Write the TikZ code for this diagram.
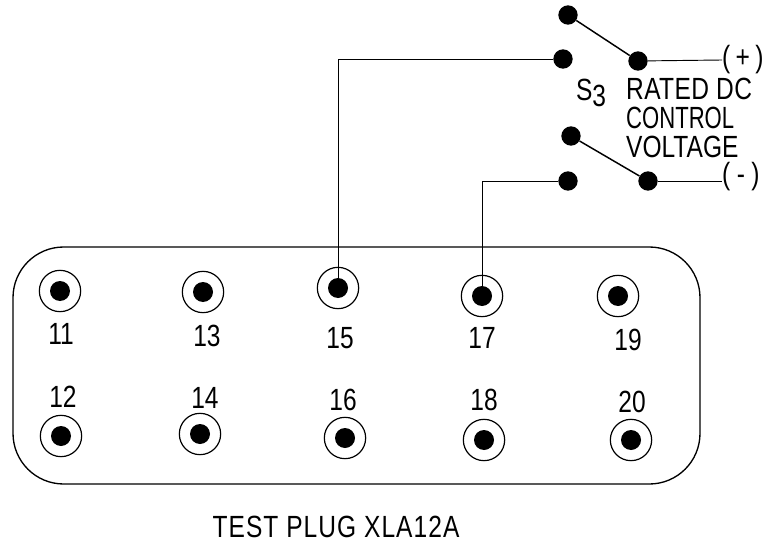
\documentclass[tikz,border=0pt]{standalone}
\usepackage{fontspec}
\setmainfont{Liberation Sans}
\usetikzlibrary{calc, positioning}
\tikzset{
  wire/.style={line width=0.7pt},
  arm/.style={line width=1.1pt},
  contact/.style={circle, fill=black, inner sep=0pt, minimum size=14.5pt},
  jack/.style={circle, draw, line width=0.9pt, inner sep=0pt, minimum size=31pt},
  pin/.style={circle, fill=black, inner sep=0pt, minimum size=15pt},
  lbl/.style={font=\fontsize{23}{23}\selectfont, inner sep=0pt, xscale=.8, transform shape},
}

\begin{document}
\begin{tikzpicture}[x=0.75pt, y=-0.75pt]
\useasboundingbox (0,0) rectangle (777,552);

\draw[line width=1pt, rounded corners=38pt] (13,247) rectangle (700,484);

\foreach \num/\px/\py/\lx/\ly in {11/60/291/61/334, 13/203/292/207/336, 15/338/288/340/338, 17/482/296/482/338, 19/618/296/628/340,
                                  12/61/436/63/397, 14/200/434/205/398, 16/345/438/343/400, 18/484/440/484/400, 20/631/440/632/402} {
    \node[jack] (j\num) at (\px,\py) {};
    \node[pin] (p\num) at (\px,\py) {};
    \node[lbl] (n\num) at (\lx,\ly) {\num};
}

\node[contact] (a1) at (568,15) {};
\node[contact] (a2) at (638,61) {};
\node[contact] (a3) at (563,59) {};
\node[contact] (b1) at (571,136) {};
\node[contact] (b2) at (648,181) {};
\node[contact] (b3) at (568,181) {};

\node[lbl, anchor=west] (plus) at (722,60) {(\hspace{5pt}+\hspace{5pt})};
\node[lbl, anchor=west] (minus) at (722,177) {(\hspace{6pt}-\hspace{6pt})};
\node[lbl] (sthree) at (591,93) {S\raisebox{-.35ex}{3}};
\node[lbl, anchor=west] (rated) at (626,89) {\addfontfeatures{LetterSpace=1.5}RATED DC};
\node[lbl, anchor=west, xscale=.9] (control) at (626,118) {CONTROL};
\node[lbl, anchor=west] (voltage) at (626,147) {VOLTAGE};
\node[lbl] (title) at (336,527) {\addfontfeatures{LetterSpace=4.3}TEST PLUG XLA12A};

\draw[arm] (a1) -- (a2);
\draw[arm] (b1) -- (b2);
\draw[wire] (a2) -- (plus.west);
\draw[wire] (b2) -- (minus.west |- b2);
\draw[wire] (p15.center) |- (a3);
\draw[wire] (p17.center) |- (b3);
\end{tikzpicture}
\end{document}
